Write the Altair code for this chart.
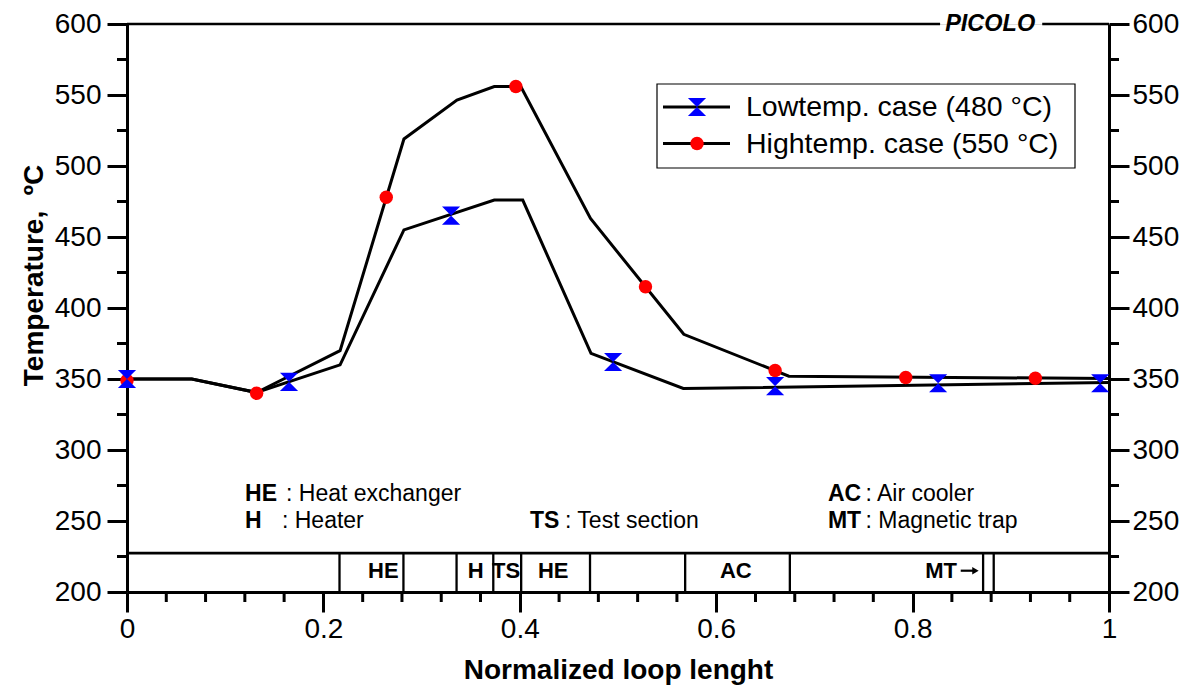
import altair as alt
import pandas as pd

FONT = "Liberation Sans"

# ---- data ----
high_x = [0.0, 0.066, 0.132, 0.217, 0.282, 0.336, 0.374, 0.401, 0.472, 0.567, 0.674, 1.0]
high_t = [350, 350, 340.5, 370, 519, 546.5, 556, 556, 463, 381.5, 352, 350.3]
low_x = [0.0, 0.066, 0.132, 0.217, 0.282, 0.374, 0.403, 0.4725, 0.5665, 1.0]
low_t = [350, 350, 340.5, 360, 455, 476, 476, 368, 343.3, 347.5]

high_mx = [0.0, 0.132, 0.264, 0.396, 0.528, 0.660, 0.793, 0.925]
high_mt = [349, 340, 478, 556, 415, 356, 351, 350.5]
low_mx = [0.0, 0.165, 0.330, 0.495, 0.660, 0.826, 0.991]
low_mt = [350, 348, 465, 362, 345, 347, 347]

band_top = 227.4
band_dividers = [0.2164, 0.2815, 0.3356, 0.373, 0.4014, 0.4715, 0.5684, 0.675, 0.8718, 0.8826]
band_labels = ["HE", "H", "TS", "HE", "AC", "MT"]
band_label_x = [0.261, 0.355, 0.386, 0.434, 0.62, 0.829]
band_label_t = 215
arrow_x0, arrow_x1 = 0.849, 0.864

abbr = ["HE", "H", "TS", "AC", "MT"]
abbr_x = [0.1202, 0.1202, 0.4104, 0.7138, 0.7138]
abbr_t = [269, 250, 250, 269, 250]
desc = [": Heat exchanger", ": Heater", ": Test section", ": Air cooler", ": Magnetic trap"]
desc_x = [0.1619, 0.1578, 0.446, 0.752, 0.752]

y_major = [200, 250, 300, 350, 400, 450, 500, 550, 600]
y_minor = [225, 275, 325, 375, 425, 475, 525, 575]
x_major = [0, 0.2, 0.4, 0.6, 0.8, 1]
x_minor = [0.04, 0.08, 0.12, 0.16, 0.24, 0.28, 0.32, 0.36, 0.44, 0.48, 0.52, 0.56,
           0.64, 0.68, 0.72, 0.76, 0.84, 0.88, 0.92, 0.96]

top_border_x0 = [0.0, 0.932]
top_border_x1 = [0.828, 1.0]

W, H = 982, 568
xs = alt.Scale(domain=[0, 1], nice=False, zero=False)
ys = alt.Scale(domain=[200, 600], nice=False, zero=False)
HOURGLASS = "M-1,-1L1,-1L-1,1L1,1Z"

axis_common = dict(
    labelFont=FONT, labelFontSize=28, labelColor="black",
    tickSize=20, tickWidth=3, tickColor="black",
    domainWidth=3, domainColor="black", grid=False,
    titleFont=FONT, titleColor="black", labelFlush=False, labelOverlap=False,
)

x_axis = alt.Axis(values=x_major, format="~g", title="Normalized loop lenght", orient="bottom",
                  titleFontSize=28, titleFontWeight="bold", titleY=86,
                  titleBaseline="alphabetic", labelPadding=3, **axis_common)
y_axis_left = alt.Axis(values=y_major, title="Temperature,\u00a0\u00a0\u00baC", orient="left",
                       titleFontSize=28, titleFontWeight="bold", titleAngle=270,
                       titleX=-85, titleY=251, titleAlign="center",
                       titleBaseline="alphabetic", labelPadding=6, **axis_common)
y_axis_right = alt.Axis(values=y_major, title=None, orient="right",
                        labelPadding=3, **axis_common)

lines_df = pd.DataFrame({
    "x": high_x + low_x,
    "T": high_t + low_t,
    "case": ["high"] * len(high_x) + ["low"] * len(low_x),
})

lines = alt.Chart(lines_df).mark_line(color="black", strokeWidth=3).encode(
    x=alt.X("x:Q", scale=xs, axis=x_axis),
    y=alt.Y("T:Q", scale=ys, axis=y_axis_left),
    detail="case:N",
)

red = alt.Chart(pd.DataFrame({"x": high_mx, "T": high_mt})).mark_point(
    shape="circle", filled=True, color="#ff0000", size=180, opacity=1, strokeWidth=0
).encode(x=alt.X("x:Q", scale=xs, axis=None), y=alt.Y("T:Q", scale=ys, axis=None))

blue = alt.Chart(pd.DataFrame({"x": low_mx, "T": low_mt})).mark_point(
    shape=HOURGLASS, filled=True, color="#0000ff", size=330, opacity=1, strokeWidth=0
).encode(x=alt.X("x:Q", scale=xs, axis=None), y=alt.Y("T:Q", scale=ys, axis=None))

band_line = alt.Chart(pd.DataFrame({"x0": [0.0], "x1": [1.0], "T": [band_top]})).mark_rule(
    color="black", strokeWidth=2.7
).encode(x=alt.X("x0:Q", scale=xs, axis=None), x2="x1:Q",
         y=alt.Y("T:Q", scale=ys, axis=y_axis_right))

dividers = alt.Chart(pd.DataFrame({"x": band_dividers, "T0": [200] * len(band_dividers),
                                   "T1": [band_top] * len(band_dividers)})).mark_rule(
    color="black", strokeWidth=2.3
).encode(x=alt.X("x:Q", scale=xs, axis=None), y=alt.Y("T0:Q", scale=ys, axis=None), y2="T1:Q")

band_text = alt.Chart(pd.DataFrame({"label": band_labels, "x": band_label_x,
                                    "T": [band_label_t] * len(band_labels)})).mark_text(
    font=FONT, fontSize=22, fontWeight="bold", color="black", baseline="middle", align="center"
).encode(x=alt.X("x:Q", scale=xs, axis=None), y=alt.Y("T:Q", scale=ys, axis=None), text="label:N")

arrow_line = alt.Chart(pd.DataFrame({"x0": [arrow_x0], "x1": [arrow_x1], "T": [band_label_t]})).mark_rule(
    color="black", strokeWidth=2.2
).encode(x=alt.X("x0:Q", scale=xs, axis=None), x2="x1:Q", y=alt.Y("T:Q", scale=ys, axis=None))
arrow_head = alt.Chart(pd.DataFrame({"x": [arrow_x1], "T": [band_label_t]})).mark_point(
    shape="triangle-right", filled=True, color="black", size=55, opacity=1, strokeWidth=0
).encode(x=alt.X("x:Q", scale=xs, axis=None), y=alt.Y("T:Q", scale=ys, axis=None))

abbr_text = alt.Chart(pd.DataFrame({"label": abbr, "x": abbr_x, "T": abbr_t})).mark_text(
    font=FONT, fontSize=23, fontWeight="bold", color="black", baseline="middle", align="left"
).encode(x=alt.X("x:Q", scale=xs, axis=None), y=alt.Y("T:Q", scale=ys, axis=None), text="label:N")

desc_text = alt.Chart(pd.DataFrame({"label": desc, "x": desc_x, "T": abbr_t})).mark_text(
    font=FONT, fontSize=23, color="black", baseline="middle", align="left"
).encode(x=alt.X("x:Q", scale=xs, axis=None), y=alt.Y("T:Q", scale=ys, axis=None), text="label:N")

top_border = alt.Chart(pd.DataFrame({"x0": top_border_x0, "x1": top_border_x1,
                                     "T": [600, 600]})).mark_rule(color="black", strokeWidth=2.6).encode(
    x=alt.X("x0:Q", scale=xs, axis=None), x2="x1:Q", y=alt.Y("T:Q", scale=ys, axis=None))

picolo = alt.Chart(pd.DataFrame({"label": ["PICOLO"], "x": [0.879], "T": [600]})).mark_text(
    font=FONT, fontSize=23.5, fontWeight="bold", fontStyle="italic", color="black",
    baseline="middle", align="center"
).encode(x=alt.X("x:Q", scale=xs, axis=None), y=alt.Y("T:Q", scale=ys, axis=None), text="label:N")

# minor ticks
minor_left = alt.Chart(pd.DataFrame({"T": y_minor})).mark_rule(color="black", strokeWidth=3).encode(
    y=alt.Y("T:Q", scale=ys, axis=None), x=alt.value(-10), x2=alt.value(0))
minor_right = alt.Chart(pd.DataFrame({"T": y_minor})).mark_rule(color="black", strokeWidth=3).encode(
    y=alt.Y("T:Q", scale=ys, axis=None), x=alt.value(W), x2=alt.value(W + 10))
minor_bottom = alt.Chart(pd.DataFrame({"x": x_minor})).mark_rule(color="black", strokeWidth=3).encode(
    x=alt.X("x:Q", scale=xs, axis=None), y=alt.value(H), y2=alt.value(H + 10))

# legend
one = pd.DataFrame({"a": [0]})
leg_box = alt.Chart(one).mark_rect(fill="white", stroke="black", strokeWidth=1.2).encode(
    x=alt.value(530), x2=alt.value(948), y=alt.value(60), y2=alt.value(144))
leg_line1 = alt.Chart(one).mark_rule(color="black", strokeWidth=3).encode(
    x=alt.value(536), x2=alt.value(603), y=alt.value(83))
leg_line2 = alt.Chart(one).mark_rule(color="black", strokeWidth=3).encode(
    x=alt.value(536), x2=alt.value(603), y=alt.value(119.5))
leg_blue = alt.Chart(one).mark_point(shape=HOURGLASS, filled=True, color="#0000ff", size=330,
                                     opacity=1, strokeWidth=0).encode(
    x=alt.value(570), y=alt.value(83))
leg_red = alt.Chart(one).mark_point(shape="circle", filled=True, color="#ff0000", size=180,
                                    opacity=1, strokeWidth=0).encode(
    x=alt.value(570), y=alt.value(119.5))
leg_t1 = alt.Chart(one).mark_text(text="Lowtemp. case (480 \u00b0C)", font=FONT, fontSize=28.5,
                                  color="black", align="left", baseline="middle").encode(
    x=alt.value(619), y=alt.value(83))
leg_t2 = alt.Chart(one).mark_text(text="Hightemp. case (550 \u00b0C)", font=FONT, fontSize=28.5,
                                  color="black", align="left", baseline="middle").encode(
    x=alt.value(619), y=alt.value(119.5))

chart = alt.layer(
    lines, band_line, dividers, band_text, arrow_line, arrow_head, abbr_text, desc_text,
    top_border, picolo, minor_left, minor_right, minor_bottom, red, blue,
    leg_box, leg_line1, leg_line2, leg_blue, leg_red, leg_t1, leg_t2,
).resolve_axis(x="independent", y="independent").properties(
    width=W, height=H,
    autosize=alt.AutoSizeParams(type="none"),
    padding={"left": 127, "top": 24, "right": 88, "bottom": 96},
).configure_view(stroke=None).configure(background="white")

chart.save("out.html", embed_options={"renderer": "svg", "actions": False})
